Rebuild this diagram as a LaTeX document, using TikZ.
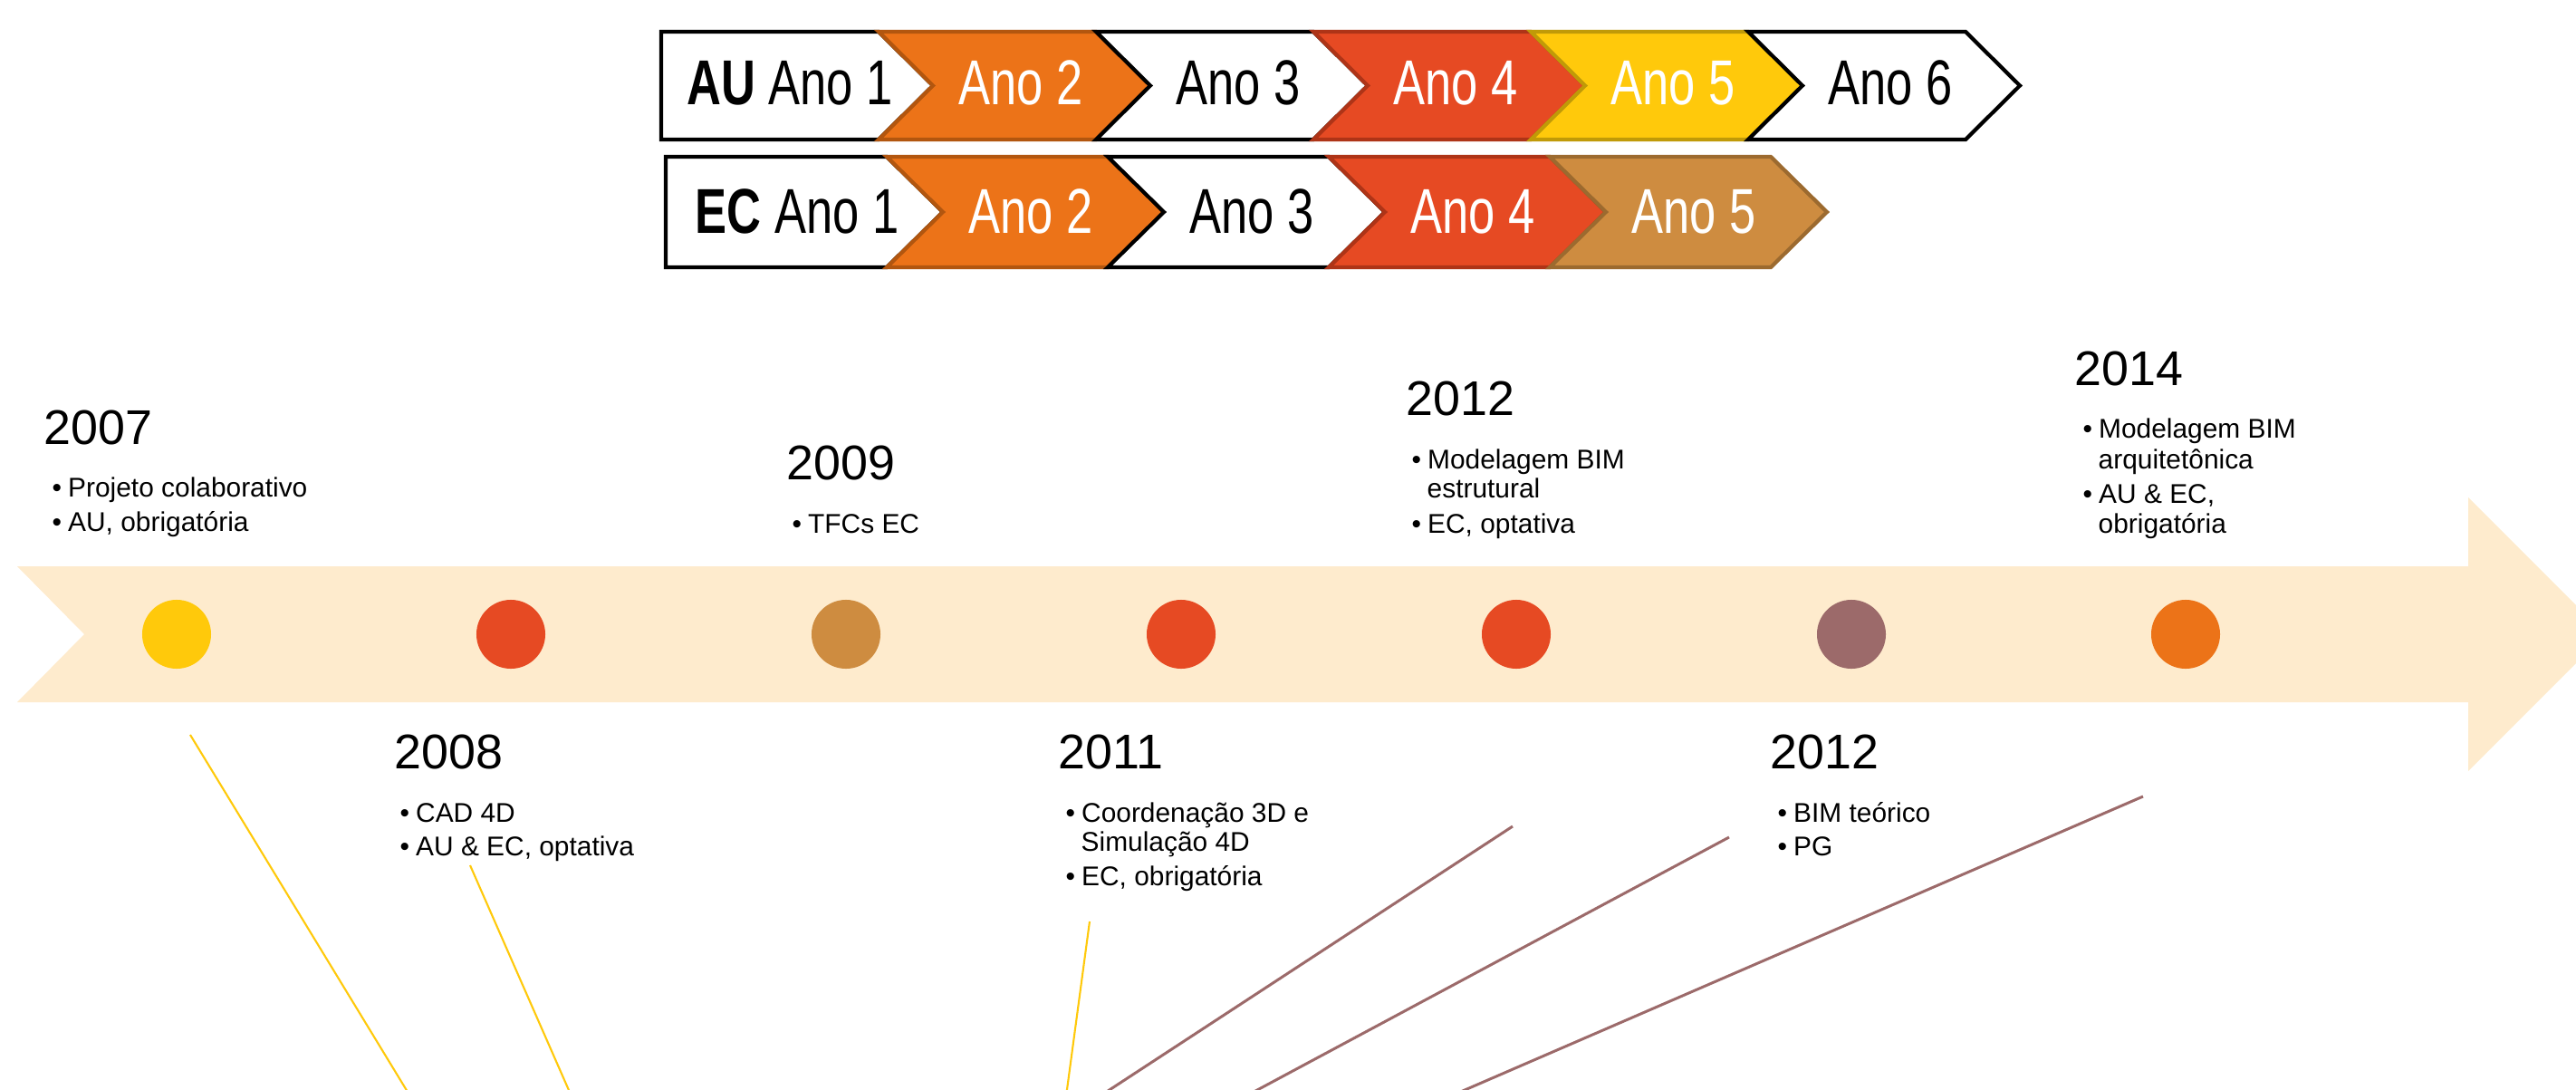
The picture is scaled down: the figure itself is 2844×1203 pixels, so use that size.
\documentclass[tikz,border=0pt]{standalone}
\usepackage{fontspec}
\setmainfont{Liberation Sans}
\newfontfamily\chevfont[FakeStretch=0.75]{Liberation Sans}
\usepackage{tikz}
\tikzset{seg/.style = {line width = 1.2pt}}
\tikzset{dot/.style = {circle, inner sep = 0, minimum size = 0.76cm}}
\tikzset{ano/.style = {anchor = base, inner sep = 0, font = \chevfont\fontsize{19.9}{22}\selectfont}}
\tikzset{year/.style = {anchor = base west, inner sep = 0, font = \fontsize{15.3}{18}\selectfont}}
\tikzset{item/.style = {anchor = base west, inner sep = 0, font = \fontsize{8.5}{10}\selectfont}}
\newcommand{\bul}{\textbullet\hspace{2pt}}
\definecolor{mband}{HTML}{FEEBCD}
\definecolor{myellow}{HTML}{FFC90B}
\definecolor{mred}{HTML}{E64A23}
\definecolor{morange}{HTML}{EC7318}
\definecolor{mbrown}{HTML}{CE8C40}
\definecolor{mpurple}{HTML}{9C6A6A}
\definecolor{myellowline}{HTML}{C09A08}
\definecolor{mredline}{HTML}{AE3417}
\definecolor{morangeline}{HTML}{B2560F}
\definecolor{mbrownline}{HTML}{9C6A2F}

\begin{document}
\begin{tikzpicture}[x=0.01cm, y=-0.01cm]
    \useasboundingbox (0, 0) rectangle (2844, 1203);
    \clip (0, 0) rectangle (2844, 1203);

    % AU
    \filldraw[seg, fill=white, draw=black] (730, 35) -- (970, 35) -- (1030, 94.5) -- (970, 154) -- (730, 154) -- cycle;
    \filldraw[seg, fill=morange, draw=morangeline] (970, 35) -- ++(240, 0) -- ++(60, 59.5) -- ++(-60, 59.5) -- ++(-240, 0) -- ++(60, -59.5) -- cycle;
    \filldraw[seg, fill=white, draw=black] (1210, 35) -- ++(240, 0) -- ++(60, 59.5) -- ++(-60, 59.5) -- ++(-240, 0) -- ++(60, -59.5) -- cycle;
    \filldraw[seg, fill=mred, draw=mredline] (1450, 35) -- ++(240, 0) -- ++(60, 59.5) -- ++(-60, 59.5) -- ++(-240, 0) -- ++(60, -59.5) -- cycle;
    \filldraw[seg, fill=myellow, draw=myellowline] (1690, 35) -- ++(240, 0) -- ++(60, 59.5) -- ++(-60, 59.5) -- ++(-240, 0) -- ++(60, -59.5) -- cycle;
    \filldraw[seg, fill=white, draw=black] (1930, 35) -- ++(240, 0) -- ++(60, 59.5) -- ++(-60, 59.5) -- ++(-240, 0) -- ++(60, -59.5) -- cycle;
    \node[ano] (au1) at (872, 115) {\textbf{AU} Ano 1};
    \node[ano, white] (au2) at (1127, 115) {Ano 2};
    \node[ano] (au3) at (1367, 115) {Ano 3};
    \node[ano, white] (au4) at (1607, 115) {Ano 4};
    \node[ano, white] (au5) at (1847, 115) {Ano 5};
    \node[ano] (au6) at (2087, 115) {Ano 6};

    % EC
    \filldraw[seg, fill=white, draw=black] (735, 173) -- (979, 173) -- (1041, 234) -- (979, 295) -- (735, 295) -- cycle;
    \filldraw[seg, fill=morange, draw=morangeline] (979, 173) -- ++(244, 0) -- ++(62, 61) -- ++(-62, 61) -- ++(-244, 0) -- ++(62, -61) -- cycle;
    \filldraw[seg, fill=white, draw=black] (1223, 173) -- ++(244, 0) -- ++(62, 61) -- ++(-62, 61) -- ++(-244, 0) -- ++(62, -61) -- cycle;
    \filldraw[seg, fill=mred, draw=mredline] (1467, 173) -- ++(244, 0) -- ++(62, 61) -- ++(-62, 61) -- ++(-244, 0) -- ++(62, -61) -- cycle;
    \filldraw[seg, fill=mbrown, draw=mbrownline] (1711, 173) -- ++(244, 0) -- ++(62, 61) -- ++(-62, 61) -- ++(-244, 0) -- ++(62, -61) -- cycle;
    \node[ano] (ec1) at (880, 257) {\textbf{EC} Ano 1};
    \node[ano, white] (ec2) at (1138, 257) {Ano 2};
    \node[ano] (ec3) at (1382, 257) {Ano 3};
    \node[ano, white] (ec4) at (1626, 257) {Ano 4};
    \node[ano, white] (ec5) at (1870, 257) {Ano 5};

    % timeline
    \fill[mband] (19, 625) -- (2725, 625) -- (2725, 549) -- (2876, 700) -- (2725, 851) -- (2725, 775) -- (19, 775) -- (93, 700) -- cycle;
    \node[dot, fill=myellow] (c07) at (195, 700) {};
    \node[dot, fill=mred] (c08) at (564, 700) {};
    \node[dot, fill=mbrown] (c09) at (934, 700) {};
    \node[dot, fill=mred] (c11) at (1304, 700) {};
    \node[dot, fill=mred] (c12a) at (1674, 700) {};
    \node[dot, fill=mpurple] (c12b) at (2044, 700) {};
    \node[dot, fill=morange] (c14) at (2413, 700) {};

    \node[year] (y07) at (48, 490) {2007};
    \node[item] (y07a) at (57, 548) {\bul Projeto colaborativo};
    \node[item] (y07b) at (57, 586) {\bul AU, obrigatória};

    \node[year] (y08) at (435, 848) {2008};
    \node[item] (y08a) at (441, 907) {\bul CAD 4D};
    \node[item] (y08b) at (441, 944) {\bul AU \& EC, optativa};

    \node[year] (y09) at (868, 529) {2009};
    \node[item] (y09a) at (874, 588) {\bul TFCs EC};

    \node[year] (y11) at (1168, 848) {2011};
    \node[item] (y11a) at (1176, 907) {\bul Coordenação 3D e};
    \node[item] (y11b) at (1193, 939) {Simulação 4D};
    \node[item] (y11c) at (1176, 977) {\bul EC, obrigatória};

    \node[year] (y12a) at (1552, 458) {2012};
    \node[item] (y12aa) at (1558, 517) {\bul Modelagem BIM};
    \node[item] (y12ab) at (1575, 549) {estrutural};
    \node[item] (y12ac) at (1558, 588) {\bul EC, optativa};

    \node[year] (y12b) at (1954, 848) {2012};
    \node[item] (y12ba) at (1962, 907) {\bul BIM teórico};
    \node[item] (y12bb) at (1962, 944) {\bul PG};

    \node[year] (y14) at (2290, 425) {2014};
    \node[item] (y14a) at (2299, 483) {\bul Modelagem BIM};
    \node[item] (y14b) at (2316, 517) {arquitetônica};
    \node[item] (y14c) at (2299, 555) {\bul AU \& EC,};
    \node[item] (y14d) at (2316, 588) {obrigatória};

    % lines
    \coordinate (l1a) at (210, 811);
    \coordinate (l1b) at (453, 1210);
    \coordinate (l2a) at (519, 955);
    \coordinate (l2b) at (631, 1210);
    \coordinate (l3a) at (1203, 1017);
    \coordinate (l3b) at (1177, 1210);
    \coordinate (l4a) at (1670, 912);
    \coordinate (l4b) at (1214, 1210);
    \coordinate (l5a) at (1909, 924);
    \coordinate (l5b) at (1375, 1210);
    \coordinate (l6a) at (2366, 879);
    \coordinate (l6b) at (1601, 1210);
    \draw[myellow, line width=0.6pt] (l1a) -- (l1b);
    \draw[myellow, line width=0.6pt] (l2a) -- (l2b);
    \draw[myellow, line width=0.6pt] (l3a) -- (l3b);
    \draw[mpurple, line width=0.85pt] (l4a) -- (l4b);
    \draw[mpurple, line width=0.85pt] (l5a) -- (l5b);
    \draw[mpurple, line width=0.85pt] (l6a) -- (l6b);
  \end{tikzpicture}
\end{document}
